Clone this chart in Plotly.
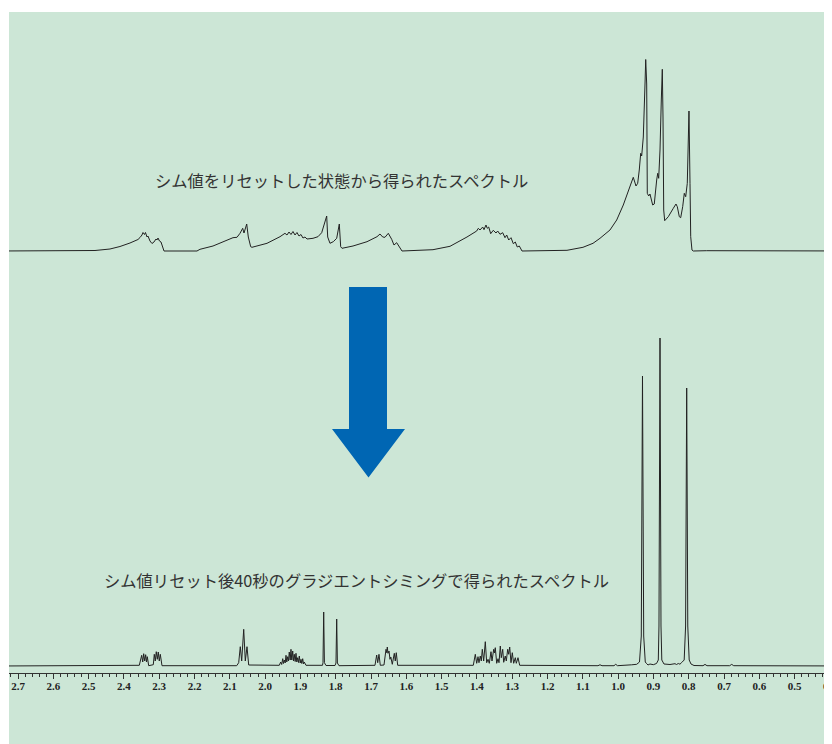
import plotly.graph_objects as go

# ---- data (chemical shift in ppm, intensity in arbitrary units) ----
# spectrum after shim reset (top)
top_ppm = [2.75, 2.4819, 2.4394, 2.4111, 2.3828, 2.3686, 2.3601, 2.3544, 2.3488, 2.3459,
           2.3417, 2.3389, 2.3346, 2.3318, 2.3261, 2.3205, 2.3148, 2.3091, 2.3063, 2.3034,
           2.2992, 2.2949, 2.2921, 2.2864, 2.1930, 2.1845, 2.1476, 2.1080, 2.0910, 2.0797,
           2.0711, 2.0635, 2.0598, 2.0521, 2.0476, 2.0408, 2.0372, 1.9946, 1.9578, 1.9437,
           1.9380, 1.9323, 1.9267, 1.9210, 1.9153, 1.9097, 1.9040, 1.8983, 1.8927, 1.8870,
           1.8813, 1.8643, 1.8502, 1.8397, 1.8255, 1.8227, 1.8162, 1.8068, 1.7972, 1.7898,
           1.7859, 1.7822, 1.7510, 1.7113, 1.6830, 1.6745, 1.6669, 1.6604, 1.6510, 1.6414,
           1.6349, 1.6272, 1.6207, 1.6122, 1.5244, 1.4762, 1.4281, 1.4006, 1.3960, 1.3912,
           1.3836, 1.3799, 1.3743, 1.3706, 1.3666, 1.3609, 1.3536, 1.3459, 1.3411, 1.3346,
           1.3269, 1.3204, 1.3156, 1.3099, 1.3034, 1.2969, 1.2912, 1.2856, 1.2799, 1.2722,
           1.1448, 1.0995, 1.0711, 1.0513, 1.0230, 1.0040, 0.9853, 0.9711, 0.9615, 0.9570,
           0.9493, 0.9445, 0.9400, 0.9360, 0.9332, 0.9286, 0.9238, 0.9218, 0.9190, 0.9173,
           0.9133, 0.9097, 0.9020, 0.8975, 0.8907, 0.8878, 0.8850, 0.8813, 0.8776, 0.8748,
           0.8728, 0.8708, 0.8680, 0.8578, 0.8436, 0.8360, 0.8323, 0.8266, 0.8227, 0.8170,
           0.8125, 0.8085, 0.8040, 0.8011, 0.7992, 0.7963, 0.7943, 0.7907, 0.7870, 0.7490,
           0.30]
top_int = [0, 0.5, 2, 4.5, 8, 10, 11.5, 13.5, 16, 18.5,
           16.5, 18.5, 14, 15, 10, 7.5, 9, 12, 11, 13,
           10, 9, 5, 0, 0, 1.7, 5, 10.3, 13.3, 13.7,
           17.7, 22.7, 18, 27, 14, 4.3, 3.7, 7.7, 14.3, 17.7,
           16, 19, 16.5, 19.5, 16, 18.5, 15, 16.5, 13, 14,
           12, 12.7, 14.3, 18.3, 35, 14, 7.7, 9.3, 12.7, 27,
           4.3, 2.7, 5, 9.3, 14.3, 17, 14, 13.7, 17.7, 11.7,
           6, 8.3, 4.3, 0, 1.3, 4.7, 14, 20, 22.7, 21,
           24, 21.3, 26, 22.7, 24, 17.3, 20.7, 18, 20, 16.7,
           18.3, 13.3, 16, 11, 13.3, 7.3, 9, 4, 5, 0,
           0.7, 3.7, 7.7, 12.7, 21, 31, 46, 59.3, 69.3, 73.7,
           65, 67.7, 81, 97.7, 95, 114, 167, 191.5, 167, 57.7,
           55, 57, 46, 47, 71, 77.7, 72.7, 101, 151, 181.7,
           134, 41, 30.3, 34.3, 42.7, 47, 44.3, 34.3, 33.3, 44.3,
           57.7, 54.3, 67.7, 101, 140, 67.7, 14.3, 1, 0, 0.3,
           0]

# spectrum after 40 s of gradient shimming (bottom)
bottom_ppm = [2.75, 2.3564, 2.3496, 2.3467, 2.3439, 2.3411, 2.3383, 2.3360, 2.3337, 2.3298,
              2.3167, 2.3139, 2.3111, 2.3083, 2.3054, 2.3026, 2.2998, 2.2969, 2.2921, 2.0805,
              2.0748, 2.0703, 2.0663, 2.0606, 2.0561, 2.0513, 2.0465, 1.9598, 1.9558, 1.9530,
              1.9501, 1.9479, 1.9456, 1.9431, 1.9408, 1.9386, 1.9360, 1.9337, 1.9315, 1.9289,
              1.9267, 1.9244, 1.9218, 1.9196, 1.9173, 1.9148, 1.9125, 1.9102, 1.9077, 1.9054,
              1.9031, 1.9006, 1.8983, 1.8960, 1.8935, 1.8912, 1.8890, 1.8842, 1.8374, 1.8360,
              1.8340, 1.8320, 1.8275, 1.8020, 1.7992, 1.7972, 1.7952, 1.7907, 1.6887, 1.6839,
              1.6810, 1.6774, 1.6737, 1.6632, 1.6575, 1.6555, 1.6538, 1.6519, 1.6490, 1.6462,
              1.6439, 1.6397, 1.6340, 1.6312, 1.6284, 1.6244, 1.4102, 1.4045, 1.4006, 1.3969,
              1.3941, 1.3904, 1.3875, 1.3847, 1.3808, 1.3762, 1.3723, 1.3685, 1.3649, 1.3601,
              1.3572, 1.3524, 1.3502, 1.3479, 1.3439, 1.3402, 1.3374, 1.3337, 1.3309, 1.3269,
              1.3241, 1.3196, 1.3167, 1.3128, 1.3099, 1.3071, 1.3034, 1.2997, 1.2958, 1.2912,
              1.2884, 1.2836, 1.2788, 1.0570, 1.0513, 1.0456, 1.0116, 1.0068, 1.0017, 0.9711,
              0.9663, 0.9615, 0.9473, 0.9394, 0.9343, 0.9309, 0.9275, 0.9230, 0.9190, 0.9153,
              0.9097, 0.9003, 0.8912, 0.8861, 0.8842, 0.8813, 0.8785, 0.8762, 0.8700, 0.8530,
              0.8388, 0.8346, 0.8295, 0.8247, 0.8198, 0.8128, 0.8088, 0.8057, 0.8026, 0.7986,
              0.7935, 0.7850, 0.7595, 0.7538, 0.7482, 0.6839, 0.6782, 0.6725, 0.30]
bottom_int = [0, 0.7, 10.7, 4, 12.3, 5, 11.3, 4, 9.3, 0.3,
              1.3, 11.7, 5, 14.3, 6.7, 14, 5, 11.7, 0.3, 0.3,
              3.3, 19.3, 5, 36.7, 5, 19.3, 1, 0.7, 4, 1.5,
              7.3, 2.5, 6, 3, 10.7, 4, 9.3, 5, 14, 6,
              16.7, 6, 15, 5, 11.7, 4.5, 12.7, 4, 8.3, 3.5,
              10, 3, 6.7, 2.5, 7.3, 2, 4, 0.7, 0.7, 3.3,
              54, 3.3, 0.5, 0.5, 3, 47, 3, 0.3, 0.7, 11,
              3.3, 11.7, 0.7, 1, 16.7, 13.3, 19, 12.7, 15, 6.7,
              9, 1.7, 12.7, 5, 13.3, 0.7, 0.7, 11.7, 2.7, 9.3,
              3.3, 10, 5, 16.7, 5, 24.3, 3.3, 6.7, 2.7, 14.3,
              5, 16.7, 13, 18.3, 2.7, 7.3, 3.3, 20, 8.3, 16.7,
              3.7, 10, 5, 16.7, 11.7, 19, 3.3, 13.3, 2.7, 8.3,
              2.7, 8.3, 0.7, 0.3, 1.2, 0.3, 0.3, 1.7, 0.3, 1,
              0.5, 1.2, 1.7, 4, 30, 290, 30, 4, 2.3, 1,
              2, 1.3, 2.5, 6, 40, 328, 40, 6, 2, 1.5,
              2.3, 1.5, 2.5, 1.8, 3.5, 6, 40, 278, 40, 6,
              2, 0.5, 0.3, 1.6, 0.3, 0.3, 1.6, 0.3, 0]

tick_values = [2.7, 2.6, 2.5, 2.4, 2.3, 2.2, 2.1, 2.0, 1.9, 1.8, 1.7, 1.6,
               1.5, 1.4, 1.3, 1.2, 1.1, 1.0, 0.9, 0.8, 0.7, 0.6, 0.5, 0.4]
tick_labels = ["2.7", "2.6", "2.5", "2.4", "2.3", "2.2", "2.1", "2.0", "1.9", "1.8", "1.7", "1.6",
               "1.5", "1.4", "1.3", "1.2", "1.1", "1.0", "0.9", "0.8", "0.7", "0.6", "0.5", "0.4"]

label_top = "シム値をリセットした状態から得られたスペクトル"
label_bottom = "シム値リセット後40秒のグラジエントシミングで得られたスペクトル"

# ---- styling ----
GREEN = "#cce6d6"
LINE = "#222222"
BLUE = "#0066b3"

W, H = 832, 744
OFF = 8                       # page offset of the figure (body margin)
ML, MR, MT, MB = 1, 0, 4, 79
plot_w = W - ML - MR
plot_h = H - MT - MB
X_LEFT = 2.7255
PPM_PER_PX = 1 / 353.0
X_RIGHT = X_LEFT - plot_w * PPM_PER_PX

fig = go.Figure()
fig.add_trace(go.Scatter(x=bottom_ppm, y=bottom_int, mode="lines",
                         line=dict(color=LINE, width=1), yaxis="y", hoverinfo="skip"))
fig.add_trace(go.Scatter(x=top_ppm, y=top_int, mode="lines",
                         line=dict(color=LINE, width=1), yaxis="y2", hoverinfo="skip"))

# green strip below the axis (tick-label area)
fig.add_shape(type="rect", xref="paper", yref="paper", x0=0, x1=1.01,
              y0=-MB / plot_h - 0.02, y1=0, fillcolor=GREEN, line=dict(width=0), layer="below")


def px(xscreen):
    return (xscreen - OFF - ML) / plot_w


def py(yscreen):
    return (H - MB + OFF - yscreen) / plot_h


arrow = (f"M {px(349)} {py(287)} L {px(387)} {py(287)} L {px(387)} {py(429)} "
         f"L {px(405)} {py(429)} L {px(368.5)} {py(477.5)} L {px(332)} {py(429)} "
         f"L {px(349)} {py(429)} Z")
fig.add_shape(type="path", xref="paper", yref="paper", path=arrow,
              fillcolor=BLUE, line=dict(width=0))

fig.add_annotation(text=label_top, xref="paper", yref="paper",
                   x=px(341.5), y=py(180), xanchor="center", yanchor="middle",
                   showarrow=False,
                   font=dict(family="Noto Sans CJK JP", size=16.3, color="#333333"))
fig.add_annotation(text=label_bottom, xref="paper", yref="paper",
                   x=px(356), y=py(580), xanchor="center", yanchor="middle",
                   showarrow=False,
                   font=dict(family="Noto Sans CJK JP", size=16.3, color="#333333"))

fig.update_layout(
    width=W, height=H,
    margin=dict(l=ML, r=MR, t=MT, b=MB, pad=0),
    paper_bgcolor="white",
    plot_bgcolor=GREEN,
    showlegend=False,
    xaxis=dict(range=[X_LEFT, X_RIGHT], showgrid=False, zeroline=False,
               showline=True, linecolor="#333333", linewidth=1,
               ticks="outside", ticklen=5, tickwidth=1, tickcolor="#333333",
               tickvals=tick_values, ticktext=tick_labels,
               ticklabelstandoff=-2,
               tickfont=dict(family="Liberation Serif", size=11, color="#222222", weight="bold"),
               minor=dict(dtick=0.02, tick0=0, ticks="outside", ticklen=3,
                          tickcolor="#333333", tickwidth=1, showgrid=False),
               fixedrange=True),
    yaxis=dict(range=[-7, 654], visible=False, fixedrange=True),
    yaxis2=dict(range=[-422, 239], visible=False, overlaying="y", fixedrange=True),
)

fig.write_html("out.html")
